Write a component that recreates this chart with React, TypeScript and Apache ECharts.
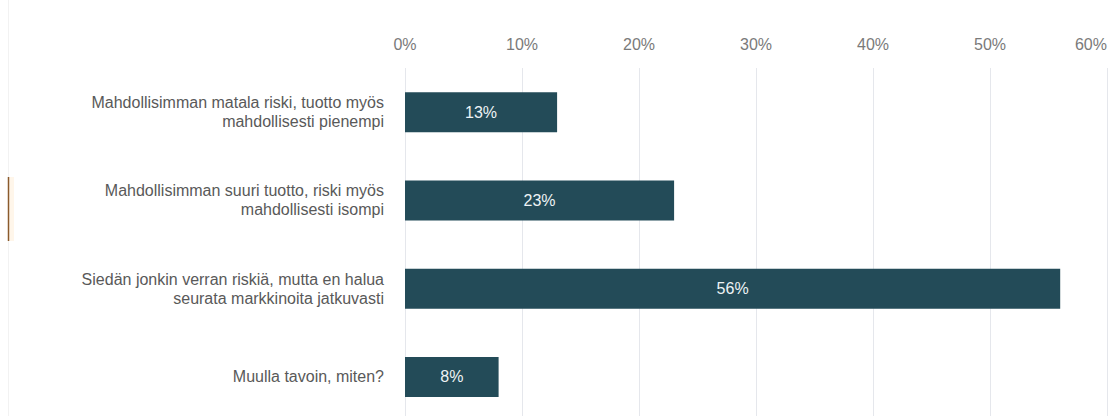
import React, { useEffect, useRef } from "react";
import * as echarts from "echarts";

const categories = [
  "Mahdollisimman matala riski, tuotto myös\nmahdollisesti pienempi",
  "Mahdollisimman suuri tuotto, riski myös\nmahdollisesti isompi",
  "Siedän jonkin verran riskiä, mutta en halua\nseurata markkinoita jatkuvasti",
  "Muulla tavoin, miten?",
];
const values = [13, 23, 56, 8];
const axisMax = 60;
const axisStep = 10;

const FONT = "'Liberation Sans', Arial, sans-serif";

export default function App() {
  const ref = useRef<HTMLDivElement>(null);
  useEffect(() => {
    if (!ref.current) return;
    const chart = echarts.init(ref.current, undefined, { renderer: "svg" });
    chart.setOption({
      animation: false,
      backgroundColor: "#ffffff",
      grid: { left: 405, right: 4, top: 68, bottom: 0, containLabel: false },
      xAxis: {
        type: "value",
        position: "top",
        min: 0,
        max: axisMax,
        interval: axisStep,
        axisLine: { show: false },
        axisTick: { show: false },
        axisLabel: {
          formatter: "{value}%",
          color: "#7a7a7a",
          fontSize: 16,
          fontFamily: FONT,
          margin: 16,
          alignMaxLabel: "right",
        },
        splitLine: { show: true, lineStyle: { color: "#e5e7ec", width: 1 } },
      },
      yAxis: {
        type: "category",
        inverse: true,
        data: categories,
        axisLine: { show: false },
        axisTick: { show: false },
        axisLabel: {
          color: "#595959",
          fontSize: 16,
          lineHeight: 19,
          fontFamily: FONT,
          margin: 21,
          align: "right",
        },
      },
      series: [
        {
          type: "bar",
          data: values,
          barWidth: 40,
          itemStyle: { color: "#234b58" },
          label: {
            show: true,
            position: "inside",
            formatter: "{c}%",
            color: "#eef3f5",
            fontSize: 16,
            fontFamily: FONT,
          },
        },
      ],
      graphic: [
        {
          type: "line",
          shape: { x1: 8.5, y1: 0, x2: 8.5, y2: 416 },
          style: { stroke: "#f2f2f2", lineWidth: 1 },
        },
        {
          type: "rect",
          shape: { x: 8, y: 177, width: 6, height: 64 },
          style: { fill: "#fff6ea" },
        },
        {
          type: "line",
          shape: { x1: 8.5, y1: 177, x2: 8.5, y2: 241 },
          style: { stroke: "#8a5a2c", lineWidth: 1.5 },
        },
      ],
    });
    return () => chart.dispose();
  }, []);
  return (
    <div
      ref={ref}
      style={{ position: "absolute", left: 0, top: 0, width: 1111, height: 421 }}
    />
  );
}
